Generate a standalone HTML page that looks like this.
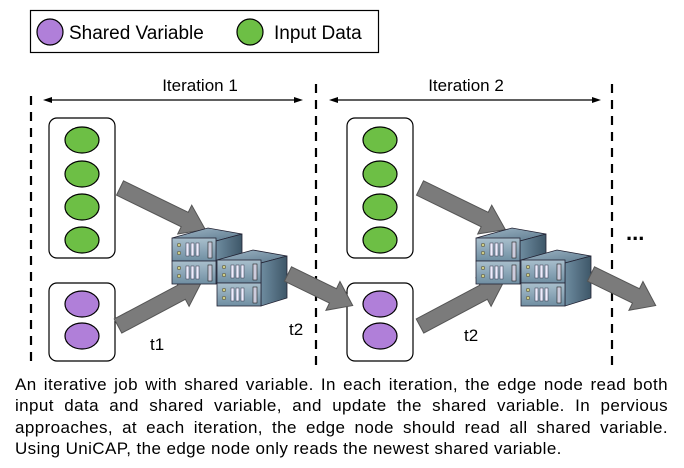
<!DOCTYPE html>
<html><head><meta charset="utf-8"><style>
body{margin:0;width:684px;height:468px;background:#fff;overflow:hidden;font-family:"Liberation Sans",sans-serif;}
.cap{position:absolute;left:15px;top:374px;width:653px;font-size:17px;line-height:21.3px;color:#000;letter-spacing:0.4px;}
.cap div{text-align:justify;text-align-last:justify;white-space:nowrap;}
.cap div.l{text-align-last:left;}
</style></head><body>
<svg width="684" height="468" style="position:absolute;left:0;top:0" font-family="Liberation Sans, sans-serif">
<defs>
<linearGradient id="tp" x1="0" y1="0" x2="1" y2="1"><stop offset="0" stop-color="#9fb6c6"/><stop offset="1" stop-color="#5d7a8e"/></linearGradient>
<linearGradient id="sd" x1="0" y1="0" x2="1" y2="0"><stop offset="0" stop-color="#6e8ca0"/><stop offset="1" stop-color="#3e5768"/></linearGradient>
<linearGradient id="fr" x1="0" y1="0" x2="0" y2="1"><stop offset="0" stop-color="#a9bfcd"/><stop offset="1" stop-color="#6f8ea2"/></linearGradient>
<g id="unit">
<polygon points="0,0 44,3 70,-4 36,-10" fill="url(#tp)" stroke="#223" stroke-width="0.8"/>
<polygon points="44,3 70,-4 70,38 44,46" fill="url(#sd)" stroke="#223" stroke-width="0.8"/>
<rect x="0" y="0" width="44" height="23" fill="url(#fr)" stroke="#223" stroke-width="0.8"/>
<rect x="0" y="23" width="44" height="23" fill="url(#fr)" stroke="#223" stroke-width="0.8"/>
<g fill="#eef" stroke="#334" stroke-width="0.5"><rect x="14" y="5" width="3" height="13"/><rect x="19" y="5" width="3" height="13"/><rect x="24" y="5" width="3" height="13"/><rect x="14" y="28" width="3" height="13"/><rect x="19" y="28" width="3" height="13"/><rect x="24" y="28" width="3" height="13"/></g>
<g fill="#cc8" stroke="#333" stroke-width="0.5"><circle cx="7" cy="7" r="1.8"/><circle cx="7" cy="15" r="1.8"/><circle cx="7" cy="30" r="1.8"/><circle cx="7" cy="38" r="1.8"/></g>
<rect x="36" y="4" width="4" height="16" fill="#ccd" stroke="#222" stroke-width="0.6"/><rect x="36" y="27" width="4" height="16" fill="#ccd" stroke="#222" stroke-width="0.6"/>
</g>
<g id="servers"><use href="#unit" x="0" y="0"/><use href="#unit" x="45" y="22"/></g>
<g id="arr"><polygon points="0,-8 72,-8 72,-16 95,0 72,16 72,8 0,8" fill="#7b7b7b" stroke="#555" stroke-width="1"/></g>
<g id="arrs"><polygon points="0,-8 50,-8 50,-16 72,0 50,16 50,8 0,8" fill="#7b7b7b" stroke="#555" stroke-width="1"/></g>
<g id="box1">
<rect x="0" y="0" width="66" height="140" rx="8" fill="#fff" stroke="#000" stroke-width="1.2"/>
<g fill="#6dbf45" stroke="#000" stroke-width="1.2"><ellipse cx="33" cy="22" rx="17" ry="13"/><ellipse cx="33" cy="56" rx="17" ry="13"/><ellipse cx="33" cy="89" rx="17" ry="13"/><ellipse cx="33" cy="122" rx="17" ry="13"/></g>
<rect x="0" y="165" width="66" height="78" rx="8" fill="#fff" stroke="#000" stroke-width="1.2"/>
<g fill="#b07fd9" stroke="#000" stroke-width="1.2"><ellipse cx="33" cy="186" rx="17" ry="13"/><ellipse cx="33" cy="218" rx="17" ry="13"/></g>
</g>
</defs>
<rect x="30.5" y="10.5" width="348" height="42" fill="#fff" stroke="#000" stroke-width="1.2"/>
<circle cx="50" cy="32" r="13" fill="#b07fd9" stroke="#000" stroke-width="1.2"/>
<text x="69" y="39" font-size="19">Shared Variable</text>
<circle cx="250" cy="32" r="13" fill="#6dbf45" stroke="#000" stroke-width="1.2"/>
<text x="274" y="39" font-size="19">Input Data</text>
<g stroke="#000" stroke-width="2.2" stroke-dasharray="9,7"><line x1="31" y1="96" x2="31" y2="366"/><line x1="316" y1="84" x2="316" y2="366"/><line x1="612" y1="84" x2="612" y2="366"/></g>
<text x="200" y="91" font-size="17" text-anchor="middle">Iteration 1</text>
<text x="466" y="91" font-size="17" text-anchor="middle">Iteration 2</text>
<g stroke="#000" stroke-width="1.2"><line x1="48" y1="100" x2="298" y2="100"/><line x1="334" y1="100" x2="596" y2="100"/></g>
<g fill="#000"><polygon points="43,100 52,97 52,103"/><polygon points="303,100 294,97 294,103"/><polygon points="329,100 338,97 338,103"/><polygon points="601,100 592,97 592,103"/></g>
<use href="#box1" x="49" y="118"/>
<use href="#box1" x="347" y="118"/>
<use href="#arr" transform="translate(120,188) rotate(26)"/>
<use href="#arr" transform="translate(118,326) rotate(-28)"/>
<use href="#arr" transform="translate(420,188) rotate(26)"/>
<use href="#arr" transform="translate(420,326) rotate(-28)"/>
<use href="#servers" x="172" y="238"/>
<use href="#servers" x="476" y="238"/>
<use href="#arrs" transform="translate(288,274) rotate(26)"/>
<use href="#arrs" transform="translate(591,274) rotate(26)"/>
<text x="150" y="350" font-size="17">t1</text>
<text x="289" y="335" font-size="17">t2</text>
<text x="464" y="341" font-size="17">t2</text>
<text x="626" y="240" font-size="22" font-weight="bold">...</text>
</svg>
<div class="cap"><div>An iterative job with shared variable. In each iteration, the edge node read both</div><div>input data and shared variable, and update the shared variable. In pervious</div><div>approaches, at each iteration, the edge node should read all shared variable.</div><div class="l">Using UniCAP, the edge node only reads the newest shared variable.</div></div>
</body></html>
